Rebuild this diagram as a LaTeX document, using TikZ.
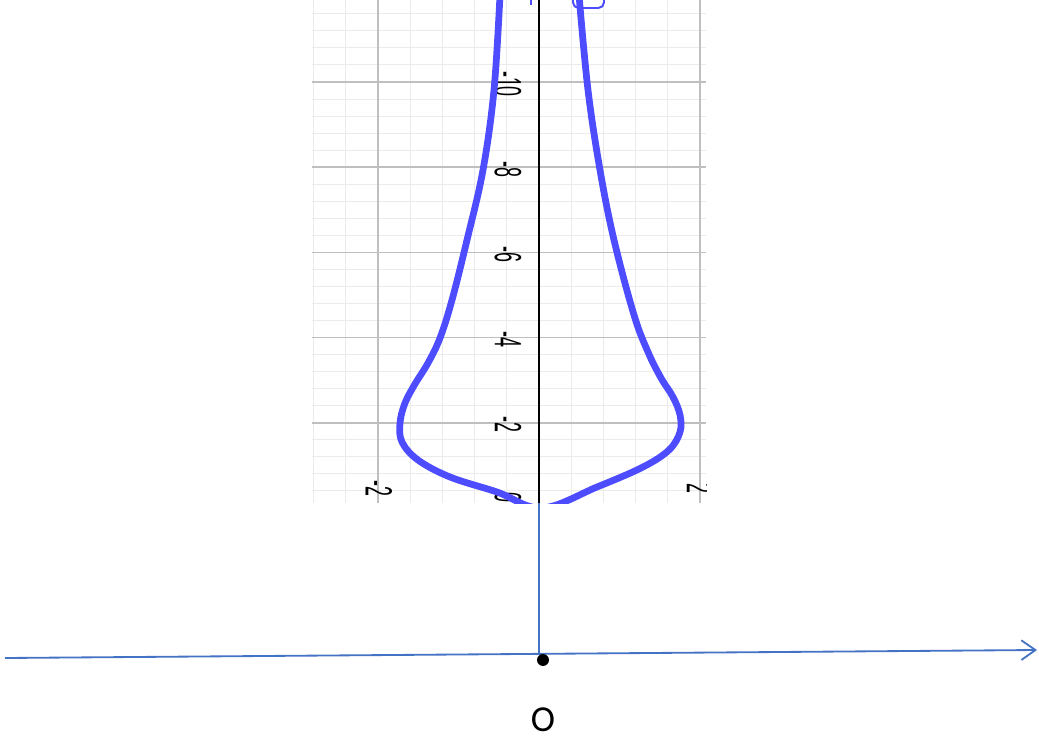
\documentclass[tikz,border=0pt]{standalone}
\usepackage{fontspec}
\usepackage{graphicx}
\usetikzlibrary{arrows.meta}
\newfontfamily\ticksf{Liberation Sans}
\newfontfamily\labsf{Carlito}
\definecolor{curveblue}{RGB}{77,77,255}
\definecolor{axisblue}{RGB}{68,114,196}
\newcommand{\ticklab}[1]{\rotatebox{-90}{\scalebox{0.47}[1]{\fontsize{27}{30}\selectfont\ticksf #1}}}

\begin{document}
\begin{tikzpicture}[x=0.025cm,y=-0.025cm,
  minor/.style={draw=black!8,line width=0.7pt},
  major/.style={draw=black!25,line width=1.2pt},
  curve/.style={curveblue,line width=4.8pt,line join=round},
  axis/.style={axisblue,line width=1.3pt},
  ticklbl/.style={inner sep=0pt}]
  \useasboundingbox (0,0) rectangle (1039,742);
  \begin{scope}
    \clip (312,0) rectangle (706,503);
    \foreach \k in {-7,...,5} \draw[minor] (539+32.2*\k,0) -- ++(0,503);
    \foreach \k in {1,...,29} \draw[minor] (312,508-17.04*\k) -- (706,508-17.04*\k);
    \foreach \k in {-5,5} \draw[major] (539+32.2*\k,0) -- ++(0,503);
    \foreach \k in {5,10,...,25} \draw[major] (312,508-17.04*\k) -- (706,508-17.04*\k);
    \draw[black,line width=1.4pt] (539,0) -- (539,503);
    \foreach \v/\k in {-2/5,-4/10,-6/15,-8/20,-10/25}
      \node[ticklbl] (t\k) at (508,510-17.04*\k) {\ticklab{\v}};
    \node[ticklbl] (t0) at (508,497) {\ticklab{0}};
    \node[ticklbl] (s-2) at (379,488) {\ticklab{-2}};
    \node[ticklbl] (s2) at (700,488) {\ticklab{2}};
    \draw[curve] plot[smooth,tension=0.6] coordinates {(500,-5) (494,90) (483,170)
      (467,240) (452,300) (440,338) (428,363) (415,384) (405,403) (400,423) (402,442)
      (418,460) (450,477) (497,492) (542,508) (597,487) (643,467) (669,450) (680,432)
      (680,415) (673,397) (661,378) (648,352) (634,315) (614,240) (600,170) (588,90)
      (579,-5)};
    \draw[curveblue,line width=1.4pt,rounded corners=4pt] (573,-12) rectangle (604,8);
    \draw[curveblue,line width=1.2pt] (531,0) -- (531,5);
  \end{scope}
  \coordinate (ytop) at (539,503);
  \coordinate (ybot) at (539,654);
  \coordinate (xl) at (5,658);
  \coordinate (xr) at (1037,650);
  \draw[axis] (ytop) -- (ybot);
  \draw[axis,-{Straight Barb[length=10pt,width=14pt]}] (xl) -- (xr);
  \node[circle,fill,inner sep=0pt,minimum size=8.5pt] (o) at (543,660) {};
  \node[font=\fontsize{26}{30}\selectfont\labsf] (olab) at (543,720) {O};
\end{tikzpicture}
\end{document}
